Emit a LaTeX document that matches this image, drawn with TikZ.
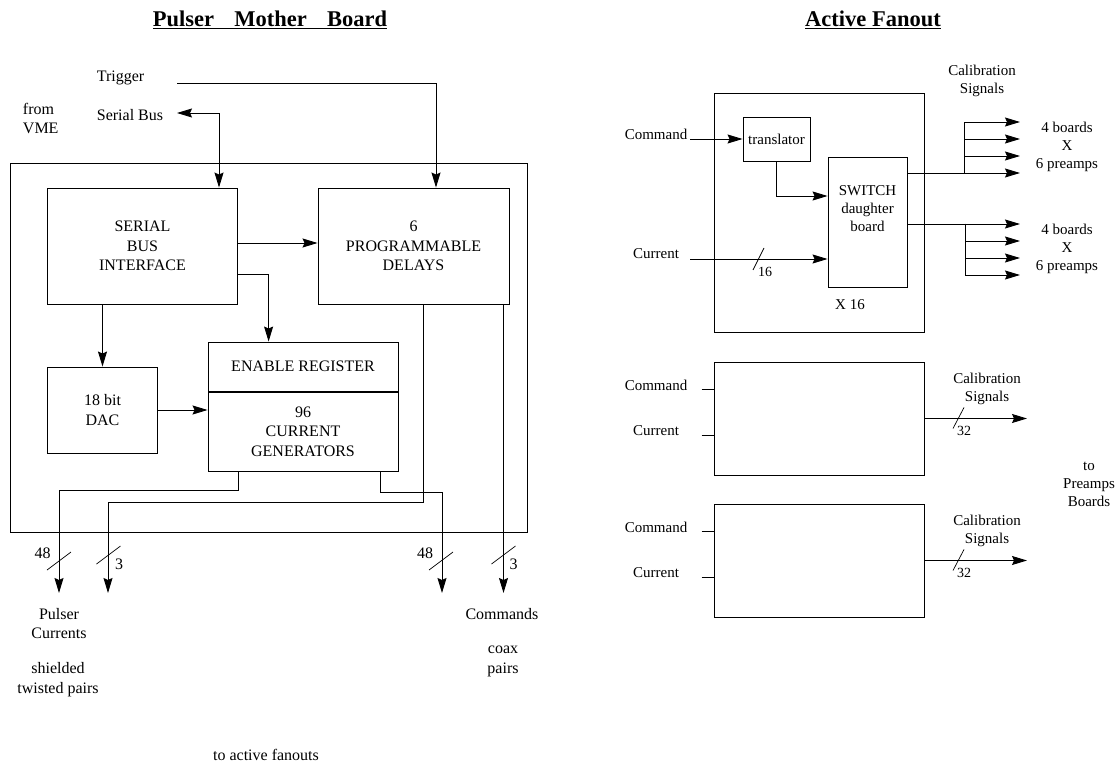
\documentclass[tikz,border=0pt]{standalone}
\usepackage{fontspec}
\setmainfont{Liberation Serif}
\usetikzlibrary{arrows.meta,positioning}

\begin{document}
\begin{tikzpicture}[
  x=1pt, y=-1pt,
  >={Stealth[length=15pt,width=9pt,inset=2pt]},
  font=\fontsize{16}{19.5}\selectfont,
  line width=0.9pt,
  box/.style={draw, align=center, inner sep=0pt},
  lbl/.style={align=center, inner sep=1pt},
  nsmall/.style={font=\fontsize{14}{16}\selectfont, inner sep=0pt},
  title/.style={font=\fontsize{22.5}{26}\selectfont\bfseries},
  flow/.style={->},
  bus/.style={<->},
  slash/.style={line width=0.7pt}
]
\useasboundingbox (0,0) rectangle (1119,767);

% titles
\node[title] (ttlpmb) at (270,20) {\underline{Pulser\hspace{0.65em} Mother\hspace{0.65em} Board}};
\node[title] (ttlaf) at (873,20) {\underline{Active Fanout}};

% pulser mother board
\node[box, minimum width=517.5pt, minimum height=369pt] (pmb) at (268.75,347.5) {};
\node[box, minimum width=190pt, minimum height=116pt] (sbi) at (142.5,246) {SERIAL\\BUS\\INTERFACE};
\node[box, minimum width=191pt, minimum height=116pt] (dly) at (413.5,246) {6\\PROGRAMMABLE\\DELAYS};
\node[box, minimum width=190pt, minimum height=49pt] (er) at (303,366.5) {ENABLE REGISTER};
\node[box, minimum width=190pt, minimum height=78.5pt] (cg) at (303,431.75) {96\\CURRENT\\GENERATORS};
\node[box, minimum width=110pt, minimum height=86pt] (dac) at (102.5,410) {18 bit\\DAC};

\node[lbl] (trig) at (120.5,78) {Trigger};
\node[lbl] (sbus) at (130,115) {Serial Bus};
\node[lbl, align=left, anchor=west] (vme) at (21.5,118.5) {from\\VME};
\coordinate (trigin) at (177,83);
\coordinate (sbusin) at (177,113);

\draw[flow] (trigin) -| ([xshift=22.5pt]dly.north);
\draw[bus] (sbusin) -| ([xshift=76.5pt]sbi.north);
\draw[flow] ([yshift=3pt]sbi.east) -- ([yshift=3pt]dly.west);
\draw[flow] ([yshift=-28pt]sbi.east) -| ([xshift=-34.4pt]er.north);
\draw[flow] (sbi.south -| dac.north) -- (dac.north);
\draw[flow] (dac.east) -- (dac.east -| cg.west);

% cables out of the board
\foreach \n/\x in {1/59, 2/108, 3/442, 4/503.5}
  \coordinate (out\n) at (\x,593);
\draw[flow] ([xshift=-65pt]cg.south) -- ++(0,19) -| (out1);
\draw[flow] ([xshift=9.5pt]dly.south) -- ++(0,198) -| (out2);
\draw[flow] ([xshift=77pt]cg.south) -- ++(0,21) -| (out3);
\draw[flow] ([xshift=90pt]dly.south) -- (out4);

\foreach \x/\y in {59/561, 108.5/555, 441/561, 503.5/555}
  \draw[slash] (\x-12,\y+9) -- (\x+12,\y-9);
\node[lbl] (n48a) at (42.5,553) {48};
\node[lbl] (n3a) at (119,564.5) {3};
\node[lbl] (n48b) at (425,553) {48};
\node[lbl] (n3b) at (513.5,564.5) {3};

\node[lbl] (pcur) at (59,623.5) {Pulser\\Currents};
\node[lbl] (stp) at (58,679.5) {shielded\\twisted pairs};
\node[lbl] (cmds) at (502,614) {Commands};
\node[lbl] (coax) at (503,661.5) {coax\\pairs};
\node[lbl] (toaf) at (266,755) {to active fanouts};

% active fanout
\begin{scope}[font=\fontsize{15}{18}\selectfont]
\node[box, minimum width=210pt, minimum height=239pt] (af1) at (819,212.5) {};
\node[box, minimum width=67pt, minimum height=44pt] (tr) at (776.5,139) {translator};
\node[box, minimum width=79pt, minimum height=130pt] (sw) at (867.5,222) {};
\node[lbl] (swtxt) at (867.5,209) {SWITCH\\daughter\\board};
\node[lbl] (x16) at (850,305) {X 16};
\node[lbl] (cmd1) at (656,134) {Command};
\node[lbl] (cur1) at (656,254) {Current};
\coordinate (cmdin) at (690,139);
\coordinate (curin) at (690,259);

\draw[flow] (cmdin) -- (cmdin -| tr.west);
\draw[flow] (tr.south) |- ([yshift=26pt]sw.west);
\draw[flow] (curin) -- (curin -| sw.west);
\draw[slash] (753,270) -- (764,248);
\node[nsmall] (n16) at (765,272) {16};

\foreach \i/\y in {1/122, 2/139, 3/156, 4/173}
  \coordinate (ta\i) at (1020,\y);
\foreach \i/\y in {1/224, 2/241, 3/258, 4/275}
  \coordinate (tb\i) at (1020,\y);
\coordinate (ja) at (964,173);
\coordinate (jb) at (965,224);
\draw[flow] (sw.east |- ta4) -- (ta4);
\foreach \i in {1,2,3}
  \draw[flow] (ja) |- (ta\i);
\draw[flow] (sw.east |- tb1) -- (tb1);
\foreach \i in {2,3,4}
  \draw[flow] (jb) |- (tb\i);

\node[lbl] (cal1) at (982,80.5) {Calibration\\Signals};
\node[lbl] (brd1) at (1067,147) {4 boards\\X\\6 preamps};
\node[lbl] (brd2) at (1067,249) {4 boards\\X\\6 preamps};

\foreach \k/\y in {2/418.5, 3/560.5} {
  \node[box, minimum width=210pt, minimum height=113pt] (af\k) at (819,\y) {};
  \node[lbl] (cmd\k) at (656,\y-33.5) {Command};
  \node[lbl] (cur\k) at (656,\y+12) {Current};
  \draw ([xshift=-12pt,yshift=29pt]af\k.west) -- ([yshift=29pt]af\k.west);
  \draw ([xshift=-12pt,yshift=-17pt]af\k.west) -- ([yshift=-17pt]af\k.west);
  \coordinate (ca\k) at (1027,\y);
  \draw[flow] (af\k.east) -- (ca\k);
  \draw[slash] (953,\y+10) -- (964,\y-11);
  \node[nsmall] (n32\k) at (964,\y+12) {32};
  \node[lbl] (cal\k) at (987,\y-30) {Calibration\\Signals};
}
\node[lbl] (topre) at (1089,484) {to\\Preamps\\Boards};
\end{scope}
\end{tikzpicture}
\end{document}
